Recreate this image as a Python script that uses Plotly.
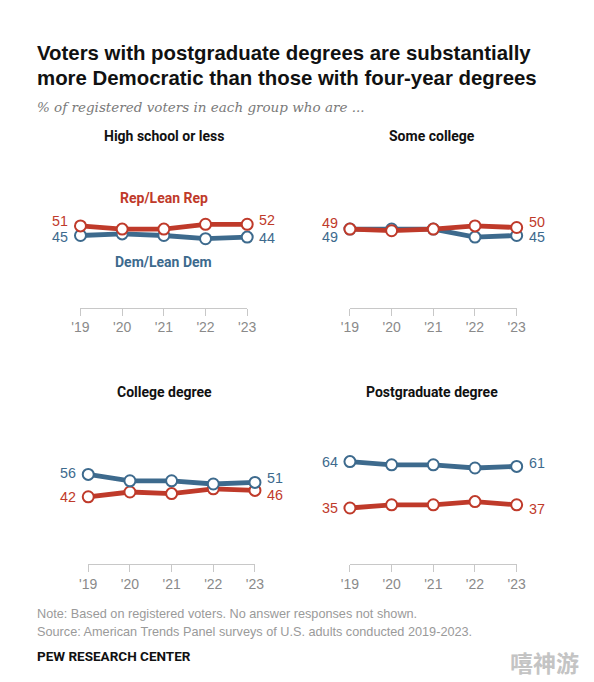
import plotly.graph_objects as go

years = [2019, 2020, 2021, 2022, 2023]
tick_labels = ["'19", "'20", "'21", "'22", "'23"]
panel_titles = ["High school or less", "Some college", "College degree", "Postgraduate degree"]
rep_hs = [51, 49, 49, 52, 52]
dem_hs = [45, 46, 45, 43, 44]
rep_sc = [49, 48, 49, 51, 50]
dem_sc = [49, 49, 49, 44, 45]
rep_cd = [42, 45, 44, 47, 46]
dem_cd = [56, 52, 52, 50, 51]
rep_pg = [35, 37, 37, 39, 37]
dem_pg = [64, 62, 62, 60, 61]

RED = "#BF3A2A"
BLUE = "#3D6A8D"
GRAY = "#8a8a8a"
OFF = 8            # page body margin
WF, HF = 586, 674  # figure size so that it fits the window


def px(X):
    return (X - OFF) / WF


def py(Y):
    return 1 - (Y - OFF) / HF


fig = go.Figure()

# pixel geometry: (x of '19, x of '23, y of axis line, title centre x)
panels = [
    (73.5, 245.5, 307.5, 160, rep_hs, dem_hs),
    (351.5, 523.5, 307.5, 436, rep_sc, dem_sc),
    (81.5, 253.5, 564, 160, rep_cd, dem_cd),
    (351.5, 523.5, 564, 436, rep_pg, dem_pg),
]
px_per_pt = 1.6
# label y shifts (rep first, rep last, dem first, dem last)
shifts = [
    (5, 4, -1, -1),
    (6, 6, -8, -1),
    (0, -5, 1, 4),
    (0, -4, 0, 3),
]
LF = dict(family="Liberation Sans, Arial", size=14.3)

for i, (x0, x1, ybase, tx, rep, dem) in enumerate(panels):
    n = "" if i == 0 else str(i + 1)
    xa = "x" + n
    ya = "y" + n
    ytop = ybase - 100 * px_per_pt
    fig.update_layout(**{
        "xaxis" + n: dict(domain=[px(x0), px(x1)], range=[2019, 2023], tickvals=years, ticktext=tick_labels,
                          showline=True, linecolor="#c8c8c8", linewidth=1.2,
                          ticks="outside", ticklen=7, tickcolor="#c8c8c8", tickwidth=1.2,
                          showgrid=False, zeroline=False, fixedrange=True,
                          tickfont=dict(family="Liberation Sans, Arial", size=14, color=GRAY),
                          anchor=ya),
        "yaxis" + n: dict(domain=[py(ybase), py(ytop)], range=[0, 100], visible=False, showgrid=False,
                          zeroline=False, fixedrange=True, anchor=xa),
    })
    order = [(dem, BLUE), (rep, RED)] if i < 2 else [(rep, RED), (dem, BLUE)]
    for vals, col in order:
        fig.add_trace(go.Scatter(
            x=years, y=vals, xaxis=xa, yaxis=ya, mode="lines+markers",
            line=dict(color=col, width=4.8),
            marker=dict(size=11, color="white", line=dict(color=col, width=2)),
            cliponaxis=False, hoverinfo="skip", showlegend=False))
    sr0, sr1, sd0, sd1 = shifts[i]
    for vals, col, s0, s1 in [(rep, RED, sr0, sr1), (dem, BLUE, sd0, sd1)]:
        fig.add_annotation(x=years[0], y=vals[0], xref=xa, yref=ya, text=str(vals[0]),
                           showarrow=False, xanchor="right", xshift=-10, yshift=s0,
                           font=dict(color=col, **LF))
        fig.add_annotation(x=years[-1], y=vals[-1], xref=xa, yref=ya, text=str(vals[-1]),
                           showarrow=False, xanchor="left", xshift=10, yshift=s1,
                           font=dict(color=col, **LF))
    fig.add_annotation(x=px(tx), y=py(ybase - 172), xref="paper", yref="paper",
                       text="<b>" + panel_titles[i] + "</b>", showarrow=False,
                       xanchor="center", yanchor="middle",
                       font=dict(family="Roboto, Liberation Sans", size=14, color="#111111"))

# series labels in first panel
fig.add_annotation(x=2021, y=py(198), xref="x", yref="paper", text="<b>Rep/Lean Rep</b>",
                   showarrow=False, yanchor="middle",
                   font=dict(family="Roboto, Liberation Sans", size=14, color=RED))
fig.add_annotation(x=2021, y=py(262), xref="x", yref="paper", text="<b>Dem/Lean Dem</b>",
                   showarrow=False, yanchor="middle",
                   font=dict(family="Roboto, Liberation Sans", size=14, color=BLUE))

# title, subtitle, notes
TF = dict(family="Liberation Sans, Arial", size=20.4, color="#111111")
fig.add_annotation(x=px(27), y=py(53.5), xref="paper", yref="paper", xanchor="left", yanchor="middle",
                   showarrow=False, text="<b>Voters with postgraduate degrees are substantially</b>", font=TF)
fig.add_annotation(x=px(27), y=py(78.5), xref="paper", yref="paper", xanchor="left", yanchor="middle",
                   showarrow=False, text="<b>more Democratic than those with four-year degrees</b>", font=TF)
fig.add_annotation(x=px(27), y=py(107.5), xref="paper", yref="paper", xanchor="left", yanchor="middle",
                   showarrow=False, text="<i>% of registered voters in each group who are ...</i>",
                   font=dict(family="DejaVu Serif, Liberation Serif", size=13.5, color="#7a7a7a"))
NF = dict(family="Liberation Sans, Arial", size=12.7, color="#9a9a9a")
fig.add_annotation(x=px(27), y=py(614), xref="paper", yref="paper", xanchor="left", yanchor="middle",
                   showarrow=False, text="Note: Based on registered voters. No answer responses not shown.", font=NF)
fig.add_annotation(x=px(27), y=py(631.5), xref="paper", yref="paper", xanchor="left", yanchor="middle",
                   showarrow=False, text="Source: American Trends Panel surveys of U.S. adults conducted 2019-2023.",
                   font=NF)
fig.add_annotation(x=px(27), y=py(655.5), xref="paper", yref="paper", xanchor="left", yanchor="middle",
                   showarrow=False, text="<b>PEW RESEARCH CENTER</b>",
                   font=dict(family="Roboto, Liberation Sans", size=13.5, color="#111111"))
fig.add_annotation(x=px(590), y=py(662), xref="paper", yref="paper", xanchor="right", yanchor="middle",
                   showarrow=False, text="<b>嘻神游</b>",
                   font=dict(family="Noto Sans CJK SC", size=23, color="#c4c4c4"))

fig.update_layout(width=WF, height=HF, margin=dict(l=0, r=0, t=0, b=0),
                  paper_bgcolor="white", plot_bgcolor="white", showlegend=False)

fig.write_html("out.html")
